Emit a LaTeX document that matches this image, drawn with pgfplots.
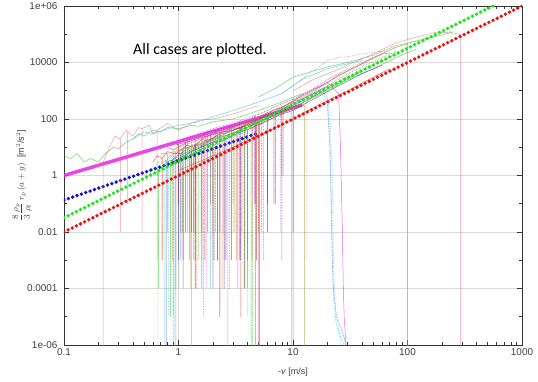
\documentclass[border=0pt]{standalone}
\usepackage{fontspec}
\setmainfont{Liberation Sans}
\newfontfamily\calibri{Carlito}
\usepackage{pgfplots}
\pgfplotsset{compat=1.18}
\definecolor{gpred}{RGB}{230,30,30}
\definecolor{gpgreen}{RGB}{40,200,40}
\definecolor{gpblue}{RGB}{40,40,220}
\definecolor{gpmag}{RGB}{220,40,220}
\definecolor{gpcyan}{RGB}{40,190,220}
\definecolor{gpbrown}{RGB}{160,110,20}
\definecolor{gporange}{RGB}{240,120,40}
\definecolor{gppink}{RGB}{240,110,140}
\definecolor{gpviolet}{RGB}{140,90,220}
\definecolor{gpdark}{RGB}{70,70,70}
\definecolor{gpolive}{RGB}{150,150,40}
\definecolor{fitmag}{RGB}{230,50,230}
\definecolor{fitblue}{RGB}{20,20,200}
\definecolor{fitgreen}{RGB}{30,230,30}
\definecolor{fitred}{RGB}{230,20,20}
\begin{document}
\begin{tikzpicture}[x=1bp,y=1bp]
\useasboundingbox (-64,-36) rectangle (474,345);
\begin{axis}[
  at={(0,0)}, anchor=south west, scale only axis,
  width=458bp, height=339bp,
  xmode=log, ymode=log,
  xmin=0.1, xmax=1000, ymin=1e-6, ymax=1e6,
  xtick={0.1,1,10,100,1000}, xticklabels={0.1,1,10,100,1000},
  minor xtick={0.2,0.3,0.4,0.5,0.6,0.7,0.8,0.9,2,3,4,5,6,7,8,9,20,30,40,50,60,70,80,90,200,300,400,500,600,700,800,900},
  ytick={1e-6,1e-4,1e-2,1,1e2,1e4,1e6},
  yticklabels={1e-06,0.0001,0.01,1,100,10000,1e+06},
  minor ytick={1e-5,1e-3,1e-1,10,1e3,1e5},
  grid=major, major grid style={gray!30, line width=0.5pt},
  tick align=inside, major tick length=5bp, minor tick length=3bp,
  tick style={black!80, line width=0.6pt},
  axis line style={black!80, line width=0.8pt},
  ticklabel style={font=\fontsize{10}{12}\selectfont, text=black!75},
  yticklabel style={xshift=-3bp},
  xlabel={\fontsize{9}{10}\selectfont -\textit{v} [m/s]},
  xlabel style={at={(axis description cs:0.5,0)}, anchor=center, yshift=-27bp, text=black!75},
  ylabel={\fontsize{9}{10}\selectfont $\displaystyle\frac{8}{3}\frac{\rho_p}{\rho_l}\,r_p\,(a+g)$\ \ [m$^2$/s$^2$]},
  ylabel style={at={(axis description cs:-0.0917,0.5)}, anchor=center, text=black!75},
  tr/.style={line width=0.5pt, opacity=0.7},
  td/.style={line width=0.6pt, opacity=0.7, densely dotted},
  fit/.style={line width=3.8bp, line cap=round, dash pattern=on 0pt off 4.6bp},
]
% fitted laws (behind data)
\addplot[fitmag, line width=3.5bp, opacity=0.9] coordinates {(0.1,1) (12,312)};
\addplot[fitblue, fit] coordinates {(0.1,0.135) (5,32)};

% ---- data traces ----
\addplot[gpgreen, tr] coordinates {(0.1,5)(0.115,4)(0.13,6)(0.15,3)(0.17,4)(0.2,3)(0.23,6)(0.27,10)(0.3,9)(0.35,15)(0.4,20)(0.45,30)(0.5,25)(0.6,40)(0.7,35)(0.8,50)(1,45)(1.3,60)(1.5,55)(2,80)(3,100)(5,200)(8,400)(12,800)};
\addplot[gppink, tr] coordinates {(0.19,2)(0.21,3)(0.22,3)(0.22,1e-7)(0.22,3)(0.25,10)(0.28,25)(0.3,20)(0.31,21)(0.31,1e-2)(0.31,21)(0.35,40)(0.36,35)(0.36,1e-1)(0.36,35)(0.4,25)(0.45,50)(0.48,45)(0.48,1e-2)(0.48,45)(0.55,60)(0.6,30)(0.65,40)(0.65,1e-3)(0.65,40)(0.8,70)(1,40)(1.2,60)(1.5,90)(2,100)(3,150)(5,300)};
\addplot[gpred, tr] coordinates {(0.6,3)(0.65,5)(0.72,4)(0.72,1e-3)(0.72,4)(0.8,7)(0.95,6)(0.95,1e-4)(0.95,6)(1.2,12)(1.35,10)(1.35,1e-2)(1.35,10)(1.6,20)(1.8,15)(2.2,28)(2.2,1e-3)(2.2,28)(3,50)(3.5,45)(4,80)(4.5,70)(5.1,110)(5.1,1e-7)(5.1,110)(6,150)(7,220)(8,260)(9.8,400)(9.8,1e-7)(9.8,400)(12,700)(15,1100)(20,2000)(25,3500)(30,5000)(40,9000)(50,14000)(60,20000)(70,22000)};
\addplot[gpgreen, td] coordinates {(0.62,2)(0.66,3)(0.66,1e-7)(0.66,3)(0.8,3)(0.9,6)(0.9,1e-5)(0.9,6)(1,6)(1.1,10)(1.3,15)(1.5,16)(1.5,1e-3)(1.5,16)(2,30)(2.5,40)(3,50)(3,1e-2)(3,50)(4,90)(4.45,120)(4.45,1e-7)(4.45,120)(4.7,130)(4.7,1e-7)(4.7,130)(6,200)(8,350)(10,500)(13,900)(17,1500)(20,2500)(30,6000)(50,15000)(80,35000)(120,60000)(200,1.1e5)(250,1.3e5)};
\addplot[gpblue, td] coordinates {(0.75,3)(0.78,3.5)(0.78,1e-7)(0.78,3.5)(0.9,6)(1.05,6)(1.05,1e-3)(1.05,6)(1.3,12)(1.6,12)(1.6,1e-4)(1.6,12)(2,22)(2.3,26)(2.3,1e-2)(2.3,26)(3,45)(3.5,50)(3.5,1e-3)(3.5,50)(5,100)(7,170)(7,1e-1)(7,170)(10,350)(15,800)(18,1200)(20,300)(21,10)(21.5,0.1)(22,1e-3)(22.5,1e-4)(24,1e-5)(27,3e-6)(29,1e-6)(30,5e-7)};
\addplot[gpmag, tr] coordinates {(0.8,10)(0.9,8)(1.1,13)(1.1,1e-3)(1.1,13)(1.5,22)(1.8,26)(1.8,1e-2)(1.8,26)(2.5,40)(3.3,58)(3.3,1e-4)(3.3,58)(4,80)(5,120)(6,170)(8,250)(8,1e-3)(8,250)(10,450)(15,1000)(20,2000)(25,800)(26,10)(27,0.01)(27.5,1e-4)(28,1e-5)(29,1e-6)(30,1e-7)};
\addplot[gpcyan, td] coordinates {(0.7,2)(0.75,2.5)(0.75,1e-7)(0.75,2.5)(0.9,4)(1,5)(1,1e-4)(1,5)(1.3,9)(1.5,12)(2,20)(2.3,24)(2.3,1e-5)(2.3,24)(3,40)(4,60)(5,90)(7,180)(10,350)(15,700)(18,1000)(20,600)(21,20)(21.5,0.5)(22,1e-2)(22.3,1e-3)(22.5,1e-4)(23,1e-5)(25,3e-6)(28,1e-6)(29,1e-7)};
\addplot[gporange, td] coordinates {(0.85,5)(0.9,5.5)(0.9,1e-7)(0.9,5.5)(1,8)(1.2,10)(1.4,13)(1.4,1e-2)(1.4,13)(2,25)(2.5,32)(2.5,1e-3)(2.5,32)(3,45)(4,70)(5,95)(5,1e-2)(5,95)(7,180)(10,300)(12.5,450)(15,600)(20,1200)(30,3000)(50,8000)(70,15000)(100,25000)};
\addplot[gpolive, tr] coordinates {(3,40)(5,100)(8,200)(12.6,300)(12.6,1e-7)};
\addplot[gpdark, td] coordinates {(0.9,4)(1.05,6.5)(1.05,1e-2)(1.05,6.5)(1.3,10)(1.4,11)(1.4,1e-4)(1.4,11)(1.8,18)(2,20)(2,1e-3)(2,20)(2.8,35)(3,40)(3,1e-1)(3,40)(4,65)(6,130)(6,1e-2)(6,130)(8,250)(10,380)(15,800)(20,1500)(30,4000)(40,7000)(60,15000)(80,25000)};
\addplot[gppink, tr] coordinates {(0.9,8)(1,10)(1.3,15)(1.3,1e-7)(1.3,15)(1.6,20)(2,28)(2.7,40)(2.7,1e-7)(2.7,40)(3,50)(4,80)(5,120)(5,1e-7)(5,120)(7,220)(10,400)(15,900)(20,2000)(30,5000)(50,15000)(80,35000)(100,45000)(100,1e-7)};
\addplot[gppink, tr] coordinates {(10,1000)(15,2500)(20,4000)(30,8000)(50,20000)(80,50000)(120,80000)(180,1.2e5)(250,1.1e5)(290,1e5)(290,1e-7)};
\addplot[gpviolet, td] coordinates {(8,800)(10,1500)(15,5000)(20,12000)(25,15000)(30,16000)(40,20000)(60,25000)};
\addplot[gpgreen, tr] coordinates {(5,600)(7,1200)(10,3000)(15,5000)(20,7000)(30,10000)(50,18000)(80,40000)(150,70000)(250,1.2e5)};
\addplot[gpcyan, tr] coordinates {(0.4,20)(0.5,35)(0.6,30)(0.8,45)(1,60)(1.5,80)(2,120)(3,200)(5,400)(8,800)(12,2500)(20,6000)(40,12000)};
\addplot[gpred, tr] coordinates {(1,1.5)(1.1,1.8)(1.1,1e-4)(1.1,1.8)(1.5,3)(2,5)(2.2,6)(2.2,1e-3)(2.2,6)(3,10)(3.5,14)(3.5,1e-5)(3.5,14)(5,25)(6,35)(6,1e-2)(6,35)(10,100)(15,250)(20,450)(30,1000)(50,3000)(70,6000)};
\addplot[gpgreen, tr] coordinates {(0.65,1)(0.67,1.5)(0.67,1e-4)(0.67,1.5)(0.8,3)(0.85,3.5)(0.85,1e-5)(0.85,3.5)(1,3)(1.25,7)(1.25,1e-3)(1.25,7)(1.7,12)(2,15)(2,1e-1)(2,15)(3,30)(4.3,58)(4.3,1e-7)(4.3,58)(6,100)(9,200)(14,500)(20,1000)(30,2500)(50,6000)(80,15000)(120,30000)};
\addplot[gpblue, tr] coordinates {(0.9,3)(1,4)(1,1e-3)(1,4)(1.3,7)(1.3,1e-2)(1.3,7)(2,15)(2.5,18)(2.5,1e-4)(2.5,18)(3.5,35)(4,42)(4,1e-3)(4,42)(6,90)(8,150)(10,200)(10,1e-2)(10,200)(15,500)(25,1500)(40,4000)(60,8000)};
\addplot[gporange, tr] coordinates {(0.7,6)(0.72,6)(0.72,1e-3)(0.72,6)(0.8,6)(0.8,1e-2)(0.8,6)(0.95,7.5)(0.95,1e-7)(0.95,7.5)(1.1,9)(1.1,1e-3)(1.1,9)(1.25,10.5)(1.25,1e-2)(1.25,10.5)(1.45,12)(1.45,1e-4)(1.45,12)(1.7,15)(1.7,1e-3)(1.7,15)(2,19)(2,1e-2)(2,19)(2.4,24)(2.4,1e-4)(2.4,24)(3.2,33)(3.2,1e-3)(3.2,33)(4,42)(4,1e-2)(4,42)(5,60)(7,120)(10,250)};
\addplot[gpred!70!black, tr] coordinates {(0.95,12)(1,13)(1,1e-1)(1,13)(1.15,15)(1.15,1e-2)(1.15,15)(1.4,19)(1.4,1e-3)(1.4,19)(1.6,22)(1.6,1e-2)(1.6,22)(1.9,27)(1.9,1e-1)(1.9,27)(2.3,33)(2.3,1e-5)(2.3,33)(2.9,39)(2.9,1e-3)(2.9,39)(3.8,55)(3.8,1e-4)(3.8,55)(4.8,75)(4.8,1e-3)(4.8,75)(6,110)(6,1e-1)(6,110)(8,190)(8,1)(8,190)(10,300)};
\addplot[gpviolet, td] coordinates {(1.5,10)(1.6,11)(1.6,1e-3)(1.6,11)(2,15)(2,1e-4)(2,15)(2.6,20)(2.6,1e-3)(2.6,20)(3.3,28)(3.3,1e-2)(3.3,28)(4,36)(4,1e-4)(4,36)(5,60)(5.5,75)(5.5,1e-3)(5.5,75)(7.8,135)(7.8,0.01)(7.8,135)(10,250)(13,380)(13,1e-3)(13,380)(17,1000)(20,1800)};
\addplot[gpcyan, td] coordinates {(0.8,2)(0.82,2.2)(0.82,1e-5)(0.82,2.2)(0.93,4.5)(0.93,1e-7)(0.93,4.5)(1.2,8)(1.35,10)(1.35,1e-3)(1.35,10)(1.9,17)(1.9,1e-4)(1.9,17)(2.6,28)(2.9,33)(2.9,1e-2)(2.9,33)(4,52)(4,1e-5)(4,52)(5,80)(7,160)(10,320)(14,700)(19,1300)(21,200)(22,1)(22.6,1e-3)(23.5,1e-5)(26,2e-6)(28,1e-7)};
\addplot[gpgreen!70!black, td] coordinates {(1,7)(1.08,8)(1.08,1e-2)(1.08,8)(1.5,14)(1.65,16)(1.65,1e-5)(1.65,16)(2.4,30)(2.55,32)(2.55,1e-3)(2.55,32)(3.6,55)(3.75,58)(3.75,1e-4)(3.75,58)(5,90)(5.3,100)(5.3,1e-2)(5.3,100)(7,170)(9,280)(12,500)(18,1100)(25,2200)(40,6000)(60,12000)(90,25000)};
\addplot[gpmag, td] coordinates {(1.1,20)(1.2,22)(1.2,1e-2)(1.2,22)(1.6,35)(1.75,38)(1.75,1e-4)(1.75,38)(2.3,55)(2.45,58)(2.45,1e-2)(2.45,58)(3.2,80)(3.4,85)(3.4,1e-3)(3.4,85)(4.6,135)(4.6,1e-1)(4.6,135)(6,200)(8,350)(10,500)(15,1200)(20,2500)(30,5500)(45,10000)};
\addplot[gpbrown, tr] coordinates {(0.85,3)(0.88,3.5)(0.88,1e-3)(0.88,3.5)(1.2,7)(1.28,8)(1.28,1e-4)(1.28,8)(1.9,16)(2.05,18)(2.05,1e-3)(2.05,18)(3,32)(3.1,34)(3.1,1e-2)(3.1,34)(4.5,62)(4.7,66)(4.7,1e-1)(4.7,66)(6.5,120)(8.2,175)(8.2,1)(8.2,175)(11,300)(16,700)(25,1800)(40,5000)};
\addplot[gpred, td] coordinates {(1.6,30)(1.7,32)(1.7,1e-3)(1.7,32)(2.1,40)(2.1,1e-2)(2.1,40)(2.8,55)(2.8,1e-4)(2.8,55)(3.6,70)(3.6,1e-2)(3.6,70)(4.4,90)(4.4,1e-3)(4.4,90)(6.8,160)(6.8,1e-1)(6.8,160)(9,260)(12,420)(20,1100)};

% fitted laws (front)
\addplot[fitgreen, fit] coordinates {(0.1,0.032) (559,1e6)};
\addplot[fitred, fit] coordinates {(0.1,0.01) (1000,1e6)};

\node[anchor=center] at (axis cs:1.54,2.75e4) {\calibri\fontsize{16}{18}\selectfont All cases are plotted.};
\end{axis}
\end{tikzpicture}
\end{document}
